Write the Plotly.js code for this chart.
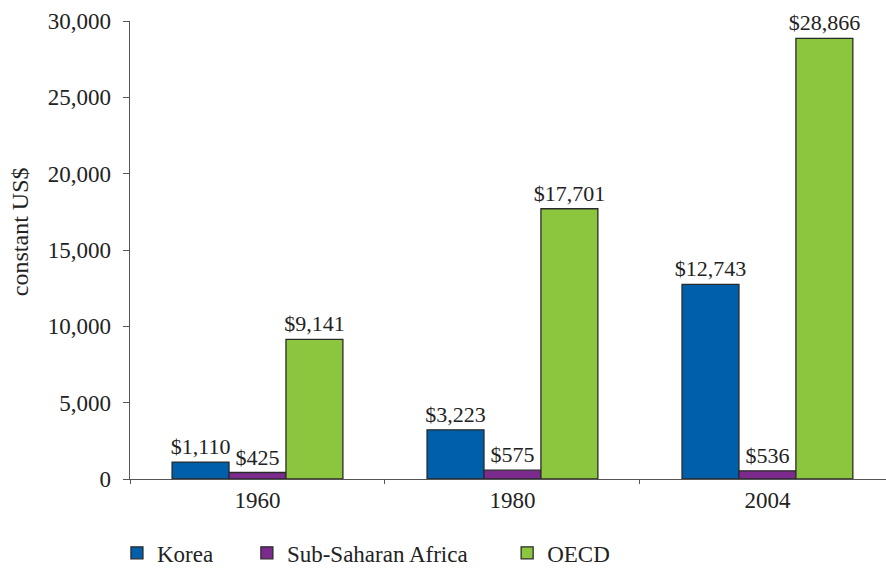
<!DOCTYPE html>
<html>
<head>
<meta charset="utf-8">
<script src="https://cdn.plot.ly/plotly-3.0.1.min.js"></script>
<style>html,body{margin:0;padding:0;background:#fff;}#chart{width:886px;height:570px;}</style>
</head>
<body>
<div id="chart"></div>
<script>
const years = ["1960", "1980", "2004"];
const korea = [1110, 3223, 12743];
const ssa = [425, 575, 536];
const oecd = [9141, 17701, 28866];
const seriesNames = ["Korea", "Sub-Saharan Africa", "OECD"];
const yTicks = [0, 5000, 10000, 15000, 20000, 25000, 30000];
const yTitle = "constant US$";

const FONT = "Liberation Serif, Times New Roman, serif";
const colors = ["#005fab", "#7d2a8e", "#8cc63f"];
const series = [korea, ssa, oecd];
const pads = ["\u00a0\u00a0\u00a0\u00a0\u00a0", "\u00a0\u00a0\u00a0\u00a0\u00a0\u00a0", ""];

const traces = series.map((vals, i) => ({
  type: "bar",
  name: seriesNames[i] + pads[i],
  x: years,
  y: vals,
  marker: {color: colors[i], line: {color: "#2a2a2a", width: 1.3}},
  texttemplate: "$%{y:,}",
  textposition: "outside",
  constraintext: "none",
  cliponaxis: false,
  textfont: {family: FONT, size: 22, color: "#222"},
  hoverinfo: "skip"
}));

const layout = {
  width: 886, height: 570,
  margin: {l: 130, r: 0, t: 21, b: 91},
  paper_bgcolor: "#fff", plot_bgcolor: "#fff",
  font: {family: FONT, size: 22, color: "#222"},
  barmode: "group",
  bargap: 0.33,
  bargroupgap: 0,
  showlegend: true,
  legend: {orientation: "h", xref: "container", x: 0.132, xanchor: "left",
           yref: "container", y: 0.03, yanchor: "middle",
           font: {family: FONT, size: 23, color: "#222"}, traceorder: "normal"},
  xaxis: {
    type: "category",
    range: [-0.5, 2.465],
    showline: true, linecolor: "#555", linewidth: 1.3,
    ticks: "outside", tickson: "boundaries", ticklen: 4, tickcolor: "#555",
    tickfont: {family: FONT, size: 23, color: "#222"},
    showgrid: false, zeroline: false
  },
  yaxis: {
    range: [0, 30000],
    tickvals: yTicks,
    tickformat: ",",
    showline: true, linecolor: "#555", linewidth: 1.3,
    ticks: "outside", ticklen: 6, tickcolor: "#555",
    ticklabelstandoff: 7,
    tickfont: {family: FONT, size: 23, color: "#222"},
    showgrid: false, zeroline: false
  },
  annotations: [{
    text: yTitle, xref: "paper", yref: "paper",
    x: -0.1455, y: 0.539, xanchor: "center", yanchor: "middle",
    textangle: -90, showarrow: false,
    font: {family: FONT, size: 24, color: "#222"}
  }]
};

Plotly.newPlot("chart", traces, layout, {displayModeBar: false, staticPlot: true});
</script>
</body>
</html>
